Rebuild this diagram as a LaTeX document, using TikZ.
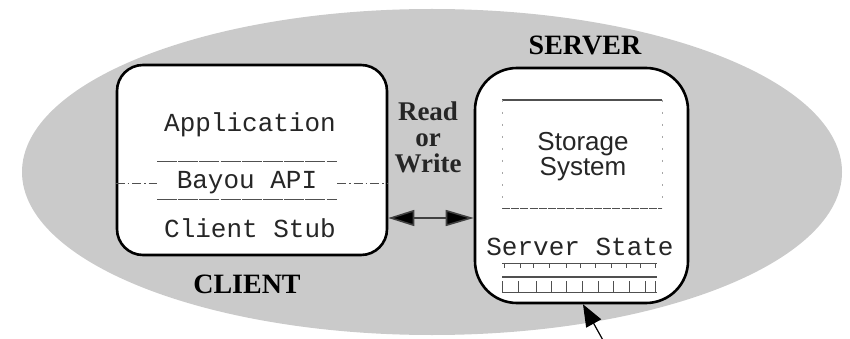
\documentclass[tikz,border=0pt]{standalone}
\usepackage{fontspec}
\setmainfont{Liberation Serif}
\setsansfont{Liberation Sans}
\setmonofont{Liberation Mono}
\usetikzlibrary{arrows.meta,calc}
\definecolor{cloudgray}{RGB}{202,202,202}
\definecolor{rulegray}{RGB}{80,80,80}
\tikzset{
  box/.style={draw=black, line width=2.6pt, fill=white, inner sep=0pt},
  mono/.style={font=\fontsize{26}{28}\selectfont\ttfamily, text=black!85, inner sep=0pt},
  title/.style={font=\fontsize{28}{30}\selectfont\rmfamily\bfseries, inner sep=0pt},
  layer/.style={draw=rulegray, line width=1pt, dash pattern=on 20pt off 1.2pt},
  apiline/.style={draw=rulegray, line width=1pt, dash pattern=on 9pt off 3pt on 1.5pt off 3pt},
  bighead/.style={Triangle[length=26pt,width=16pt]},
  gridline/.style={draw=rulegray, line width=0.6pt}
}
\begin{document}
\begin{tikzpicture}[x=1pt,y=-1pt]
\useasboundingbox (0,0) rectangle (850,339);

% shaded region holding client and server
\begin{scope}
  \clip (0,0) rectangle (850,339);
  \fill[cloudgray] (432,172) ellipse [x radius=410, y radius=163];
\end{scope}

% client
\node[box, rounded corners=26pt, minimum width=270pt, minimum height=190pt] (client) at (252,160) {};
\node[mono] (app) at (250,125) {Application};
\node[mono] (api) at (247,183) {Bayou API};
\node[mono] (stub) at (250,228) {Client Stub};
\draw[layer] (157,162) -- (337,162);
\draw[layer] (157,199) -- (337,199);
\draw[apiline] (client.west |- api) -- (157,183);
\draw[apiline] (337,183) -- (client.east |- api);
\node[title] (clientlbl) at (247,284) {CLIENT};

% server
\node[box, rounded corners=42pt, minimum width=213pt, minimum height=235pt] (server) at (581.5,185.5) {};
\node[title] (serverlbl) at (585,45) {SERVER};
\draw[line width=1.2pt, draw=rulegray] (502,100) -- (662,100);
\draw[layer, dash pattern=on 8pt off 1.2pt] (502,208) -- (662,208);
\draw[draw=black!35, line width=0.6pt, dash pattern=on 2pt off 10pt] (502,100) -- (502,208);
\draw[draw=black!35, line width=0.6pt, dash pattern=on 2pt off 10pt] (662,100) -- (662,208);
\node[font=\fontsize{26}{25}\selectfont\sffamily, text=black!85, align=center, inner sep=0pt] (storage) at (583,157) {Storage\\System};
\node[mono] (state) at (580,247) {Server State};

% server state table
\draw[gridline] (502,263) -- (657,263);
\draw[gridline, line width=1.4pt] (502,277) -- (657,277);
\draw[gridline] (502,292) -- (657,292);
\foreach \x in {504,520,533,549,566,580,595,611,626,640,655}
  \draw[gridline, line width=0.5pt] (\x,263) -- (\x,268);
\foreach \x in {502,518,536,551,566,582,598,613,629,645,655}
  \draw[gridline, line width=0.5pt] (\x,281) -- (\x,292);

% read / write exchange
\node[font=\fontsize{27}{26}\selectfont\rmfamily\bfseries, text=black!85, align=center, inner sep=0pt] (rw) at (428,137) {Read\\or\\Write};
\path (client.east) ++(0,58) coordinate (rwL);
\path (server.west |- rwL) coordinate (rwR);
\draw[line width=1.6pt, draw=black!75, {Triangle[length=26pt,width=16pt,fill=black]}-{Triangle[length=28pt,width=16pt,fill=black]}] (rwL) -- (rwR);

% update arriving from below
\coordinate (feed) at (604,342);
\path (server.south) ++(1.5,0) coordinate (inlet);
\draw[line width=1.2pt, -{Triangle[length=22pt,width=17pt]}] (feed) -- (inlet);
\end{tikzpicture}
\end{document}
